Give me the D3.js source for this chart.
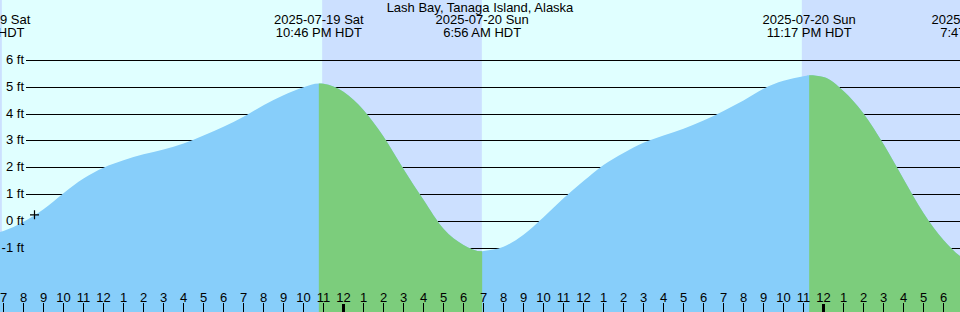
<!DOCTYPE html>
<html>
<head>
<meta charset="utf-8">
<script src="https://cdn.jsdelivr.net/npm/d3@7.9.0/dist/d3.min.js"></script>
<style>
  body { margin: 0; background: #fff; }
  svg { display: block; font-family: "Liberation Sans", Arial, sans-serif; }
</style>
</head>
<body>
<svg id="chart" width="960" height="312"></svg>
<script>
// tide chart - Lash Bay, two days of predictions
const title = 'Lash Bay, Tanaga Island, Alaska';

// hourly tide level (ft), starting 2025-07-19 7 AM
const hourlyStart = '2025-07-19T07:00';
const hourlyLevels = [
  -0.36, -0.02, 0.45, 1.05, 1.6, 2.0, 2.28, 2.5, 2.68, 2.9, 3.2, 3.53,
  3.9, 4.33, 4.7, 5.0, 5.13, 4.83, 4.15, 3.16, 1.95, 0.8, -0.28, -0.88,
  -1.11, -0.95, -0.5, 0.15, 0.86, 1.5, 2.1, 2.55, 2.93, 3.2, 3.45, 3.76,
  4.12, 4.51, 4.95, 5.24, 5.41, 5.38, 4.86, 4.02, 2.88, 1.58, 0.31, -0.7,
  -1.38
];

// high / low tides
const eventTimes = ['2025-07-19T06:06', '2025-07-19T22:46', '2025-07-20T06:56', '2025-07-20T23:17', '2025-07-21T07:47'];
const eventLevels = [-0.48, 5.14, -1.12, 5.45, -1.55];
const eventDates = ['2025-07-19 Sat', '2025-07-19 Sat', '2025-07-20 Sun', '2025-07-20 Sun', '2025-07-21 Mon'];
const eventClock = ['6:06 AM HDT', '10:46 PM HDT', '6:56 AM HDT', '11:17 PM HDT', '7:47 AM HDT'];

// night time
const sunsetTimes = ['2025-07-18T22:57', '2025-07-19T22:56', '2025-07-20T22:55'];
const sunriseTimes = ['2025-07-19T06:55', '2025-07-20T06:55', '2025-07-21T06:56'];

const levelTicks = [-1, 0, 1, 2, 3, 4, 5, 6];
const markTime = '2025-07-19T08:33';
const markLevel = 0.24;

const parse = d3.timeParse('%Y-%m-%dT%H:%M');
const parseS = d3.timeParse('%Y-%m-%dT%H:%M:%S');

const width = 960, height = 312;
const svg = d3.select('#chart');

const t0 = parseS('2025-07-19T06:49:30');
const t1 = d3.timeHour.offset(t0, 48);
const x = d3.scaleTime().domain([t0, t1]).range([0, width]);
const y = d3.scaleLinear().domain([-1, 6]).range([248.1, 60.5]);

// merge hourly readings with the tide extremes
const start = parse(hourlyStart);
let points = hourlyLevels.map((v, i) => ({ t: d3.timeHour.offset(start, i), v: v }));
eventTimes.forEach((s, i) => points.push({ t: parse(s), v: eventLevels[i] }));
points.sort((a, b) => a.t - b.t);

// background
svg.append('rect').attr('width', width).attr('height', height).attr('fill', '#e0ffff');
sunsetTimes.forEach((s, i) => {
  let a = Math.max(0, x(parse(s)));
  let b = Math.min(width, x(parse(sunriseTimes[i])));
  if (b > a) {
    svg.append('rect').attr('x', a).attr('y', 0).attr('width', b - a).attr('height', height)
      .attr('fill', '#cce0ff');
  }
});

// grid lines behind the water
svg.append('g').selectAll('line').data(levelTicks).join('line')
  .attr('x1', 26).attr('x2', width)
  .attr('y1', d => y(d)).attr('y2', d => y(d))
  .attr('stroke', '#000').attr('shape-rendering', 'crispEdges');

const area = d3.area()
  .x(d => x(d.t))
  .y0(height)
  .y1(d => y(d.v))
  .curve(d3.curveMonotoneX);

// rising = blue, falling = green
const defs = svg.append('defs');
const clip = defs.append('clipPath').attr('id', 'falling');
for (let i = 1; i < eventTimes.length - 1; i += 2) {
  let a = x(parse(eventTimes[i]));
  let b = x(parse(eventTimes[i + 1]));
  clip.append('rect').attr('x', a).attr('y', 0).attr('width', b - a).attr('height', height);
}
svg.append('path').datum(points).attr('d', area).attr('fill', '#87cefa');
svg.append('path').datum(points).attr('d', area).attr('fill', '#7ccd7c')
  .attr('clip-path', 'url(#falling)');

// level labels
svg.append('g').selectAll('text').data(levelTicks).join('text')
  .attr('x', 24).attr('y', d => y(d) + 3.5)
  .attr('text-anchor', 'end').attr('font-size', 13)
  .text(d => d + ' ft');

// marker
const mx = x(parse(markTime)), my = y(markLevel);
svg.append('path')
  .attr('d', `M${mx - 4.5},${my}H${mx + 4.5}M${mx},${my - 4.5}V${my + 4.5}`)
  .attr('stroke', '#000').attr('stroke-width', 1.2);

// title and tide event labels
svg.append('text').attr('x', width / 2).attr('y', 12).attr('text-anchor', 'middle')
  .attr('font-size', 13).text(title);
const ev = svg.append('g').selectAll('g').data(eventTimes).join('g')
  .attr('transform', d => `translate(${x(parse(d))},0)`)
  .attr('text-anchor', 'middle').attr('font-size', 13);
ev.append('text').attr('y', 24).text((d, i) => eventDates[i]);
ev.append('text').attr('y', 37).text((d, i) => eventClock[i]);

// hour axis
const hours = x.ticks(d3.timeHour.every(1));
const tick = svg.append('g').selectAll('g').data(hours).join('g')
  .attr('transform', d => `translate(${x(d)},0)`);
tick.append('line')
  .attr('y1', d => d.getHours() === 0 ? 304 : 303).attr('y2', height)
  .attr('stroke', '#000')
  .attr('stroke-width', d => d.getHours() === 0 ? 3 : 1)
  .attr('shape-rendering', 'crispEdges');
tick.append('text').attr('y', 302).attr('text-anchor', 'middle').attr('font-size', 13)
  .text(d3.timeFormat('%-I'));
</script>
</body>
</html>
